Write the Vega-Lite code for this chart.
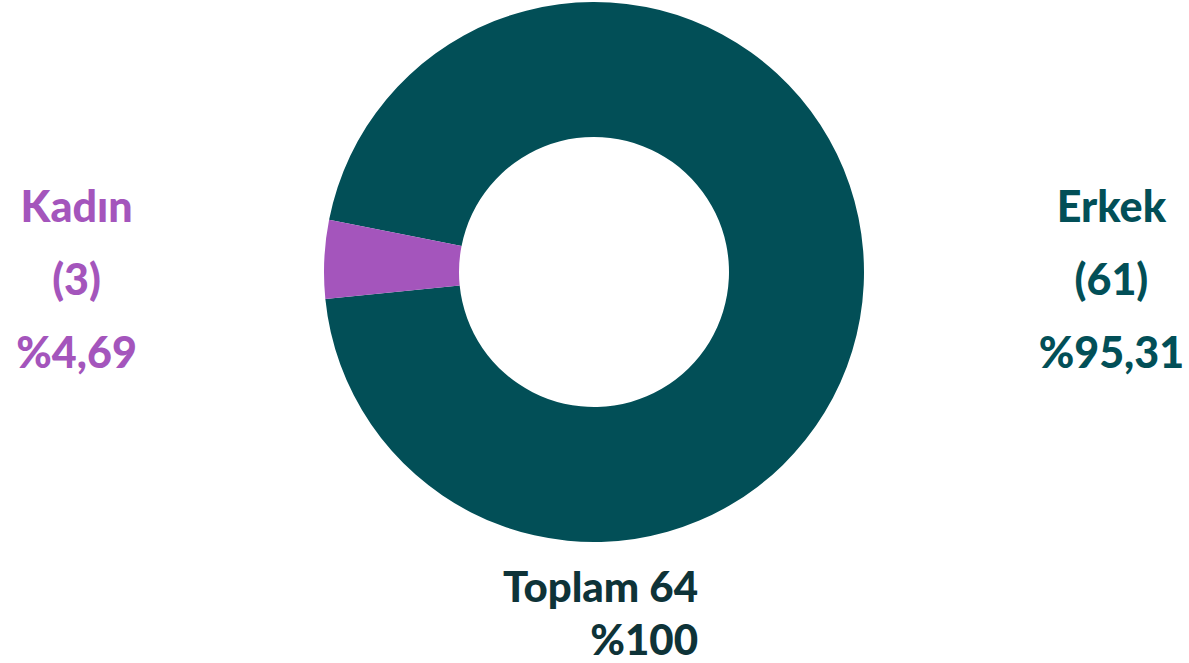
{
  "$schema": "https://vega.github.io/schema/vega-lite/v6.json",
  "width": 1188,
  "height": 544,
  "padding": 0,
  "background": "white",
  "view": {"stroke": null},
  "data": {
    "values": [
      {"cinsiyet": "Erkek", "sayi": 61, "label": "Erkek\n(61)\n%95,31"},
      {"cinsiyet": "Kadın", "sayi": 3, "label": "Kadın\n(3)\n%4,69"}
    ]
  },
  "title": {
    "text": ["Toplam 64", "%100"],
    "orient": "bottom",
    "anchor": "middle",
    "align": "right",
    "baseline": "alphabetic",
    "dx": 104,
    "offset": 58,
    "font": "Lato",
    "fontWeight": 900,
    "fontSize": 42,
    "lineHeight": 53,
    "color": "#0E3338"
  },
  "encoding": {
    "theta": {"field": "sayi", "type": "quantitative", "stack": true, "scale": {"range": [-1.3764, 4.9068]}},
    "color": {
      "field": "cinsiyet",
      "type": "nominal",
      "scale": {"domain": ["Erkek", "Kadın"], "range": ["#024F57", "#A455BC"]},
      "legend": null
    }
  },
  "layer": [
    {"mark": {"type": "arc", "outerRadius": 270, "innerRadius": 135}},
    {
      "mark": {"type": "text", "radius": 518, "font": "Lato", "fontWeight": 900, "fontSize": 43, "lineBreak": "\n", "lineHeight": 73, "align": "center", "baseline": "alphabetic", "dy": -25.6},
      "encoding": {
        "text": {"condition": {"test": "datum.cinsiyet === 'Kadın'", "field": "label"}, "value": ""}
      }
    },
    {
      "mark": {"type": "text", "radius": 518, "font": "Lato", "fontWeight": 900, "fontSize": 43, "lineBreak": "\n", "lineHeight": 73, "align": "center", "baseline": "alphabetic", "dy": -74.4},
      "encoding": {
        "text": {"condition": {"test": "datum.cinsiyet === 'Erkek'", "field": "label"}, "value": ""}
      }
    }
  ]
}
